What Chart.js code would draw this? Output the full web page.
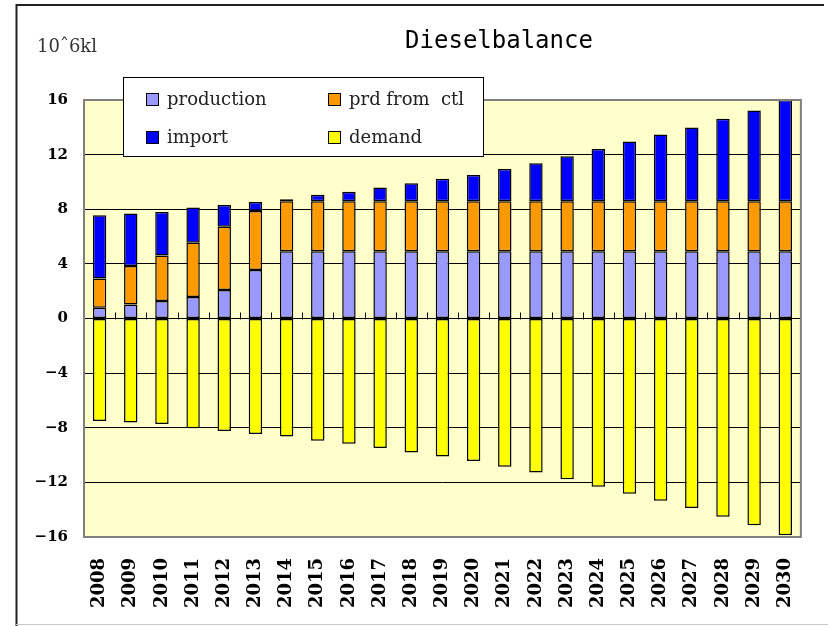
<!DOCTYPE html>
<html>
<head>
<meta charset="utf-8">
<script src="https://cdn.jsdelivr.net/npm/chart.js@4/dist/chart.umd.min.js"></script>
<style>
html,body{margin:0;padding:0;background:#fff;}
canvas{display:block;}
</style>
</head>
<body>
<canvas id="c" width="828" height="626"></canvas>
<script>
const years = ['2008','2009','2010','2011','2012','2013','2014','2015','2016','2017','2018','2019','2020','2021','2022','2023','2024','2025','2026','2027','2028','2029','2030'];
const production = [0.79,1.03,1.28,1.57,2.09,3.56,4.93,4.93,4.93,4.93,4.93,4.93,4.93,4.93,4.93,4.93,4.93,4.93,4.93,4.93,4.93,4.93,4.93];
const prdFromCtl = [2.13,2.82,3.33,3.98,4.63,4.32,3.66,3.66,3.66,3.66,3.66,3.66,3.66,3.66,3.66,3.66,3.66,3.66,3.66,3.66,3.66,3.66,3.66];
const importVals = [4.64,3.83,3.19,2.57,1.60,0.66,0.15,0.47,0.69,1.01,1.31,1.65,1.91,2.35,2.77,3.29,3.83,4.37,4.88,5.40,6.04,6.65,7.41];
const demand = [-7.50,-7.62,-7.72,-8.03,-8.23,-8.45,-8.64,-8.96,-9.18,-9.49,-9.81,-10.10,-10.44,-10.86,-11.27,-11.78,-12.32,-12.83,-13.34,-13.88,-14.51,-15.14,-15.87];
const seriesNames = ['production','prd from  ctl','import','demand'];
const yTicks = [-16,-12,-8,-4,0,4,8,12,16];
const chartTitle = 'Dieselbalance';
const unitLabel = '10\u02C66kl';

const decor = {
  id: 'decor',
  beforeDraw(chart) {
    const ctx = chart.ctx, a = chart.chartArea;
    ctx.save();
    ctx.fillStyle = '#fff';
    ctx.fillRect(0, 0, chart.width, chart.height);
    ctx.fillStyle = '#FFFFCC';
    ctx.fillRect(a.left, a.top, a.right - a.left, a.bottom - a.top);
    ctx.strokeStyle = '#222';
    ctx.lineWidth = 2;
    ctx.beginPath();
    ctx.moveTo(16.5, 626); ctx.lineTo(16.5, 5); ctx.lineTo(824, 5);
    ctx.stroke();
    ctx.strokeStyle = '#c8c8c8';
    ctx.lineWidth = 1;
    ctx.beginPath();
    ctx.moveTo(16, 624.5); ctx.lineTo(828, 624.5);
    ctx.stroke();
    ctx.restore();
  },
  beforeDatasetsDraw(chart) {
    const ctx = chart.ctx, x = chart.scales.x, y = chart.scales.y;
    const y0 = Math.round(y.getPixelForValue(0)) + 0.5;
    const half = (x.getPixelForValue(1) - x.getPixelForValue(0)) / 2;
    ctx.save();
    ctx.strokeStyle = '#000';
    ctx.lineWidth = 1;
    ctx.beginPath();
    for (let i = 0; i < years.length - 1; i++) {
      const px = Math.round(x.getPixelForValue(i) + half) + 0.5;
      ctx.moveTo(px, y0); ctx.lineTo(px, y0 - 7);
    }
    ctx.stroke();
    ctx.restore();
  },
  afterDraw(chart) {
    const ctx = chart.ctx, a = chart.chartArea;
    ctx.save();
    ctx.strokeStyle = '#808080';
    ctx.lineWidth = 2;
    ctx.strokeRect(a.left, a.top, a.right - a.left, a.bottom - a.top);
    ctx.fillStyle = '#000';
    ctx.font = '24px "DejaVu Sans Mono"';
    ctx.textAlign = 'center';
    ctx.textBaseline = 'middle';
    ctx.fillText(chartTitle, 499, 42);
    ctx.font = '18px "DejaVu Serif"';
    ctx.textAlign = 'left';
    ctx.fillStyle = '#333';
    ctx.fillText(unitLabel, 37, 47);
    ctx.fillStyle = '#fff';
    ctx.fillRect(123, 77, 361, 80);
    ctx.strokeStyle = '#000';
    ctx.lineWidth = 1;
    ctx.strokeRect(123.5, 77.5, 360, 79);
    const pos = [[146, 93], [328, 93], [146, 131], [328, 131]];
    chart.data.datasets.forEach((ds, i) => {
      const [bx, by] = pos[i];
      ctx.fillStyle = ds.backgroundColor;
      ctx.fillRect(bx, by, 13, 13);
      ctx.strokeStyle = '#000';
      ctx.strokeRect(bx + 0.5, by + 0.5, 12, 12);
      ctx.fillStyle = '#222';
      ctx.font = '18px "DejaVu Serif"';
      ctx.textBaseline = 'middle';
      ctx.fillText(ds.label, bx + 21, by + 7);
    });
    ctx.restore();
  }
};

const mk = (label, data, color) => ({
  label, data, backgroundColor: color, borderColor: '#000', borderWidth: 1.5,
  borderSkipped: false, stack: 's', barPercentage: 0.43, categoryPercentage: 1
});

new Chart(document.getElementById('c'), {
  type: 'bar',
  data: {
    labels: years,
    datasets: [
      mk(seriesNames[0], production, '#9999FF'),
      mk(seriesNames[1], prdFromCtl, '#FF9900'),
      mk(seriesNames[2], importVals, '#0000FF'),
      mk(seriesNames[3], demand, '#FFFF00')
    ]
  },
  options: {
    responsive: false,
    animation: false,
    devicePixelRatio: 1,
    layout: { padding: { left: 0, top: 100, right: 5, bottom: 0 } },
    plugins: { legend: { display: false }, title: { display: false }, tooltip: { enabled: false } },
    scales: {
      x: {
        stacked: true,
        grid: { display: false, drawTicks: false },
        border: { display: false },
        ticks: {
          autoSkip: false, minRotation: 90, maxRotation: 90, padding: 21,
          color: '#000', font: { family: 'DejaVu Serif', size: 18, weight: 'bold' }
        },
        afterFit(s) { s.height = 89; }
      },
      y: {
        stacked: true,
        min: -16, max: 16,
        afterBuildTicks(s) { s.ticks = yTicks.map(v => ({ value: v })); },
        grid: {
          drawTicks: false, lineWidth: 1,
          color: c => (Math.abs(c.tick.value) === 16 ? 'rgba(0,0,0,0)' : '#000')
        },
        border: { display: false },
        ticks: {
          padding: 16, color: '#000',
          font: { family: 'DejaVu Serif', size: 15, weight: 'bold' },
          callback: v => (v < 0 ? '\u2212' + Math.abs(v) : String(v))
        },
        afterFit(s) { s.width = 84; }
      }
    }
  },
  plugins: [decor]
});
</script>
</body>
</html>
